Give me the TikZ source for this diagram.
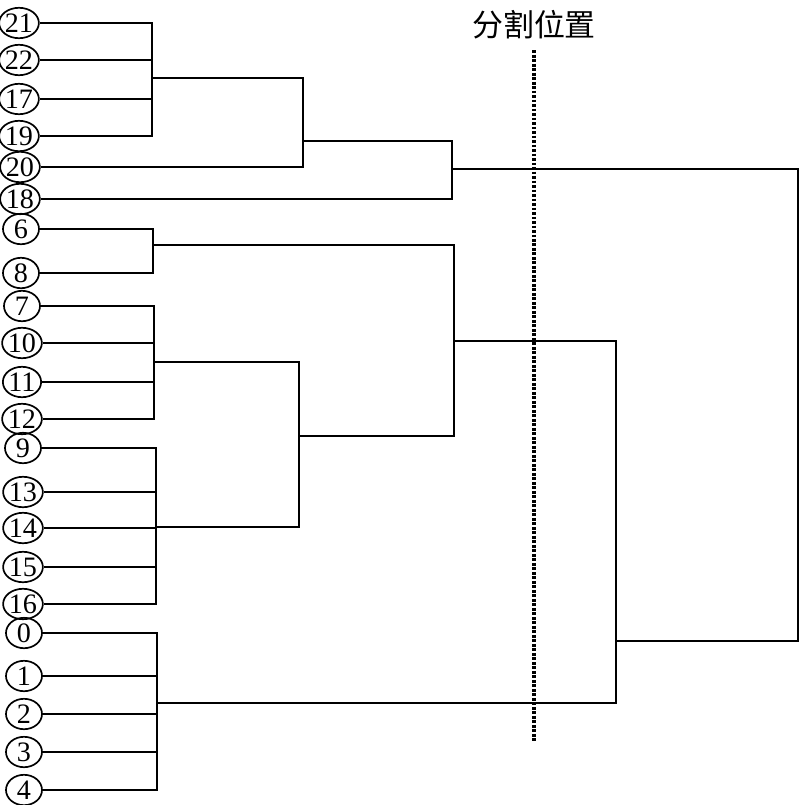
\documentclass[tikz,border=0pt]{standalone}
\usepackage{fontspec}
\setmainfont{Liberation Serif}
\newfontfamily\cjk{Noto Sans CJK SC}
\usetikzlibrary{shapes.geometric}
\tikzset{
  leaf/.style={
    ellipse,
    draw, line width=1.2pt,
    minimum width=0.9cm,
    minimum height=0.76cm,
    inner sep=0pt,
    font=\fontsize{20}{22}\selectfont},
  link/.style={draw, line width=1.5pt},
  cutline/.style={draw, line width=2.5pt, dash pattern=on 2.13pt off 1.07pt},
  title/.style={font=\cjk\fontsize{22}{26}\selectfont},
}

\begin{document}
\begin{tikzpicture}[x=0.025cm, y=-0.025cm]
    \useasboundingbox (0,0) rectangle (800,805);
    % Place nodes
    \foreach \n/\x/\y in {21/19/23, 22/19/60, 17/19/99, 19/19/136,
        20/20/167, 18/20/199, 6/21/229, 8/21/273,
        7/22/306, 10/22/343, 11/22/382, 12/22/419,
        9/23/448, 13/23/492, 14/23/528, 15/23/567, 16/23/604,
        0/24/633, 1/24/676, 2/24/714, 3/24/752, 4/24/790}
        \node [leaf] (n\n) at (\x,\y) {\n};
    % merge points
    \coordinate (cA) at (152,78);
    \coordinate (cB) at (303,141);
    \coordinate (cC) at (452,169);
    \coordinate (cD) at (153,245);
    \coordinate (cE) at (154,362);
    \coordinate (cF) at (156,527);
    \coordinate (cG) at (299,436);
    \coordinate (cH) at (454,341);
    \coordinate (cI) at (157,703);
    \coordinate (cJ) at (616,641);
    \coordinate (cRoot) at (798,405);
    % cut position
    \node [title] (cutTitle) at (534,25) {分割位置};
    \coordinate (cutTop) at (534,50);
    \coordinate (cutBottom) at (534,741);
    % Draw edges
    \foreach \n in {21,22,17,19}
        \path [link] (n\n) -| (cA);
    \path [link] (cA) -| (cB);
    \path [link] (n20) -| (cB);
    \path [link] (cB) -| (cC);
    \path [link] (n18) -| (cC);
    \foreach \n in {6,8}
        \path [link] (n\n) -| (cD);
    \foreach \n in {7,10,11,12}
        \path [link] (n\n) -| (cE);
    \foreach \n in {9,13,14,15,16}
        \path [link] (n\n) -| (cF);
    \path [link] (cE) -| (cG);
    \path [link] (cF) -| (cG);
    \path [link] (cD) -| (cH);
    \path [link] (cG) -| (cH);
    \foreach \n in {0,1,2,3,4}
        \path [link] (n\n) -| (cI);
    \path [link] (cH) -| (cJ);
    \path [link] (cI) -| (cJ);
    \path [link] (cC) -| (cRoot);
    \path [link] (cJ) -| (cRoot);
    \path [cutline] (cutTop) -- (cutBottom);
\end{tikzpicture}
\end{document}
